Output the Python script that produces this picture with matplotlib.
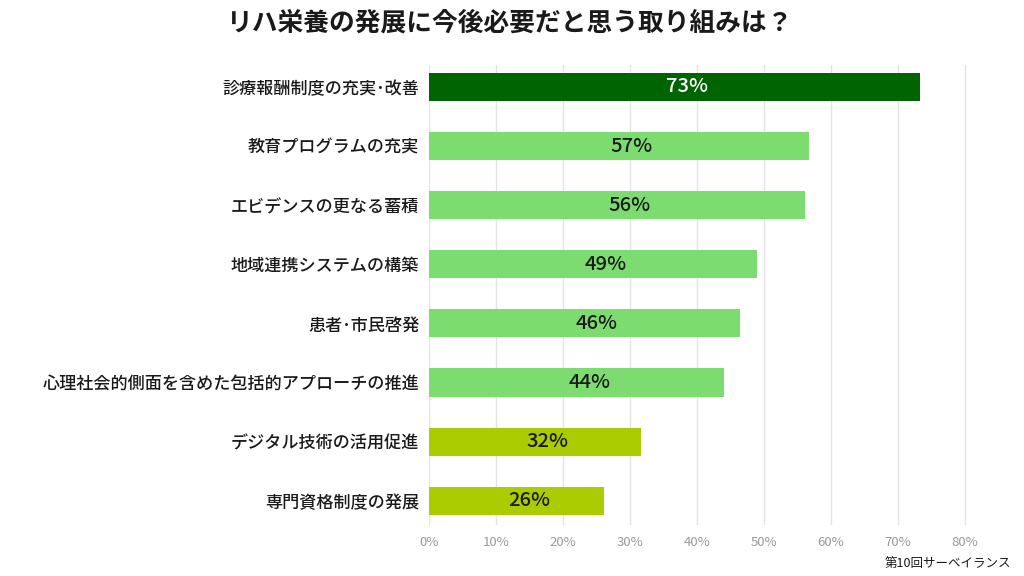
import numpy as np
import matplotlib
matplotlib.use('Agg')
import matplotlib.pyplot as plt

plt.rcParams['font.family'] = ['Noto Sans CJK JP', 'DejaVu Sans']

title = 'リハ栄養の発展に今後必要だと思う取り組みは？'
categories = [
    '診療報酬制度の充実･改善',
    '教育プログラムの充実',
    'エビデンスの更なる蓄積',
    '地域連携システムの構築',
    '患者･市民啓発',
    '心理社会的側面を含めた包括的アプローチの推進',
    'デジタル技術の活用促進',
    '専門資格制度の発展',
]
values = [73.4, 56.7, 56.2, 49.0, 46.4, 44.1, 31.6, 26.2]
value_labels = ['73%', '57%', '56%', '49%', '46%', '44%', '32%', '26%']
bar_colors = ['#006400', '#7ddc6f', '#7ddc6f', '#7ddc6f', '#7ddc6f', '#7ddc6f',
              '#aacc00', '#aacc00']
text_colors = ['white', '#1a1a1a', '#1a1a1a', '#1a1a1a', '#1a1a1a', '#1a1a1a',
               '#1a1a1a', '#1a1a1a']
xticks = [0, 10, 20, 30, 40, 50, 60, 70, 80]
caption = '第10回サーベイランス'

fig = plt.figure(figsize=(10.24, 5.76), dpi=100)
ax = fig.add_axes([429/1024, 1-525/576, (990-429)/1024, 460/576])

y = np.arange(len(categories))
ax.barh(y, values, height=0.475, color=bar_colors, zorder=3)

for i in range(len(values)):
    ax.text(values[i]/2 + 1.9, y[i], value_labels[i], ha='center', va='center',
            fontsize=14.5, fontweight='medium', color=text_colors[i], zorder=4)

ax.set_xlim(0, 83.8)
ax.set_ylim(7.41, -0.37)
ax.set_xticks(xticks)
ax.set_xticklabels([f'{t}%' for t in xticks])
ax.set_yticks(y)
ax.set_yticklabels(categories, fontsize=12.3, fontweight='medium', color='#1a1a1a')
ax.tick_params(axis='y', length=0, pad=7)
ax.tick_params(axis='x', length=0, pad=8, labelsize=9.5, labelcolor='#999999')
ax.grid(axis='x', color='#e3e3e3', linewidth=1, zorder=0)
for s in ax.spines.values():
    s.set_visible(False)

fig.text(0.497, 1-23/576, title, ha='center', va='center', fontsize=18.5,
         fontweight='bold', color='#1a1a1a')
fig.text(1011/1024, 1-563/576, caption, ha='right', va='center', fontsize=9,
         color='#1a1a1a')

fig.savefig('out.png', dpi=100)
